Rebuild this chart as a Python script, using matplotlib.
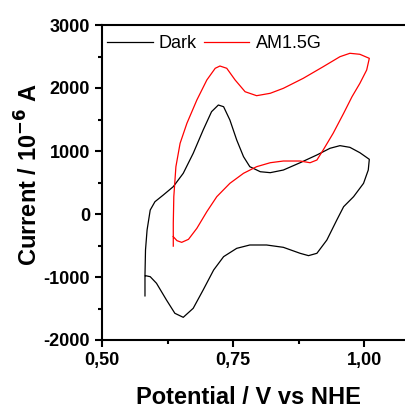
import matplotlib
matplotlib.use('Agg')
import matplotlib.pyplot as plt
from matplotlib.ticker import MultipleLocator, FuncFormatter

# Dark scan: anodic sweep then cathodic sweep back
dark_v = [0.582, 0.582, 0.583, 0.586, 0.592, 0.601, 0.617, 0.636, 0.655, 0.674,
          0.693, 0.709, 0.722, 0.732, 0.744, 0.757, 0.770, 0.782, 0.802, 0.821,
          0.846, 0.878, 0.910, 0.935, 0.954, 0.973, 0.992, 1.010,
          1.008, 0.999, 0.980, 0.961, 0.948, 0.929, 0.910, 0.894, 0.878, 0.846,
          0.814, 0.782, 0.757, 0.732, 0.713, 0.693, 0.674, 0.655, 0.639, 0.623,
          0.604, 0.592, 0.583]
dark_i = [-1300, -970, -571, -254, 63, 195, 302, 434, 646, 963,
          1333, 1624, 1730, 1703, 1492, 1175, 910, 751, 671, 656,
          698, 814, 937, 1043, 1085, 1058, 973, 868,
          698, 487, 275, 116, -95, -413, -624, -661, -624, -529,
          -492, -492, -545, -677, -889, -1206, -1497, -1640, -1576, -1365,
          -1100, -995, -979]

# AM1.5G scan
light_v = [0.636, 0.636, 0.637, 0.641, 0.649, 0.662, 0.681, 0.700, 0.716, 0.725,
           0.738, 0.754, 0.773, 0.795, 0.821, 0.846, 0.884, 0.922, 0.954, 0.973,
           0.992, 1.010,
           1.005, 0.992, 0.977, 0.961, 0.941, 0.922, 0.910, 0.897, 0.878, 0.846,
           0.821, 0.795, 0.770, 0.744, 0.719, 0.700, 0.681, 0.665, 0.652, 0.643,
           0.636]
light_i = [-510, -148, 275, 751, 1122, 1440, 1810, 2127, 2313, 2349,
           2313, 2127, 1941, 1878, 1916, 1995, 2154, 2338, 2497, 2551,
           2535, 2471,
           2286, 2074, 1862, 1598, 1281, 1016, 857, 814, 841, 841,
           814, 751, 646, 487, 275, 37, -227, -402, -450, -423,
           -360]

plt.rcParams['font.family'] = ['Liberation Sans', 'DejaVu Sans']

fig = plt.figure(figsize=(4.06, 4.09), dpi=100)
ax = fig.add_axes([102/406, 1 - 340/409, 1 - 102/406, 315/409])

ax.plot(dark_v, dark_i, color='black', lw=0.9, label='Dark')
ax.plot(light_v, light_i, color='#ff0000', lw=0.9, label='AM1.5G')

ax.set_xlim(0.5, 1.08)
ax.set_ylim(-2000, 3000)
ax.xaxis.set_major_locator(MultipleLocator(0.25))
ax.xaxis.set_minor_locator(MultipleLocator(0.125))
ax.yaxis.set_major_locator(MultipleLocator(1000))
ax.yaxis.set_minor_locator(MultipleLocator(500))
ax.xaxis.set_major_formatter(FuncFormatter(lambda v, p: ('%.2f' % v).replace('.', ',')))
ax.yaxis.set_major_formatter(FuncFormatter(lambda v, p: '%d' % v))

for s in ['left', 'bottom', 'top']:
    ax.spines[s].set_linewidth(1.5)
ax.spines['right'].set_visible(False)
ax.tick_params(which='major', direction='out', length=5, width=1.5, labelsize=13)
ax.tick_params(which='minor', direction='out', length=3, width=1.5)
ax.tick_params(top=False, right=False, which='both')
for lab in ax.get_xticklabels() + ax.get_yticklabels():
    lab.set_fontweight('bold')

ax.set_xlabel('Potential / V vs NHE', fontsize=17, fontweight='bold')
ax.set_ylabel('Current / 10$^{\\mathbf{-6}}$ A', fontsize=17, fontweight='bold')
ax.xaxis.set_label_coords((248 - 102) / 304, -(386 - 340) / 315)
ax.yaxis.set_label_coords(-(102 - 43) / 304, (340 - 175) / 315)

ax.legend(loc='upper left', bbox_to_anchor=(0.0, 0.984), ncol=2, frameon=False,
          fontsize=13, handlelength=2.5, handletextpad=0.35, columnspacing=0.4,
          borderaxespad=0, borderpad=0.3)

fig.savefig('out.png', dpi=100)
